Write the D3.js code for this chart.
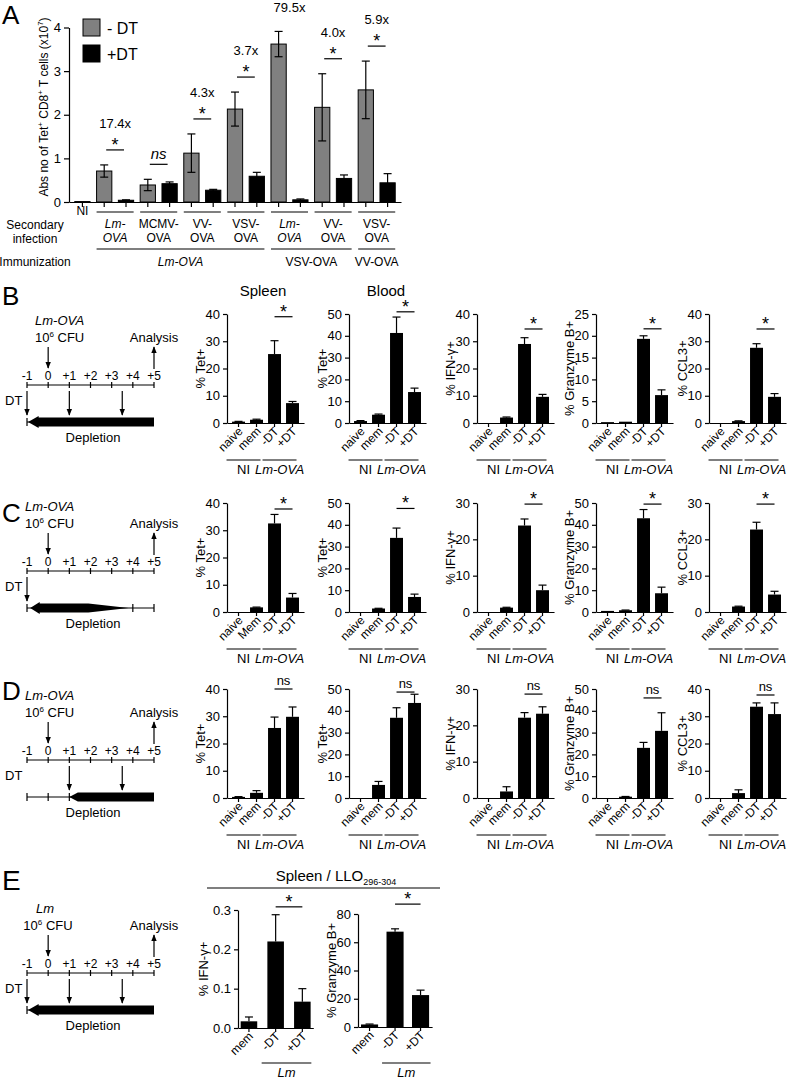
<!DOCTYPE html>
<html>
<head>
<meta charset="utf-8">
<script src="https://cdn.jsdelivr.net/npm/d3@7"></script>
<style>
  body { margin: 0; background: #fff; }
  svg { font-family: "Liberation Sans", Arial, Helvetica, sans-serif; }
</style>
</head>
<body>
<svg id="fig" width="787" height="1079"></svg>
<script>
// ---------- data: panel A ----------
const aInfection = [["NI"], ["Lm-", "OVA"], ["MCMV-", "OVA"], ["VV-", "OVA"], ["VSV-", "OVA"], ["Lm-", "OVA"], ["VV-", "OVA"], ["VSV-", "OVA"]];
const aMinusDT  = [0.01, 0.71, 0.39, 1.12, 2.13, 3.62, 2.17, 2.57];
const aMinusErr = [0, 0.14, 0.13, 0.44, 0.39, 0.29, 0.77, 0.66];
const aPlusDT   = [null, 0.04, 0.42, 0.27, 0.59, 0.05, 0.54, 0.44];
const aPlusErr  = [null, 0.01, 0.04, 0.02, 0.09, 0.02, 0.08, 0.21];
const aFold     = [null, "17.4x", "ns", "4.3x", "3.7x", "79.5x", "4.0x", "5.9x"];
const aImmunization = [{label: "Lm-OVA", from: 1, to: 4}, {label: "VSV-OVA", from: 5, to: 6}, {label: "VV-OVA", from: 7, to: 7}];
const aTicks = [0, 1, 2, 3, 4];

// ---------- data: panels B-D ----------
const chartYLabels = ["% Tet+", "% Tet+", "% IFN-\u03b3+", "% Granzyme B+", "% CCL3+"];
const barLabels = ["naive", "mem", "-DT", "+DT"];
const barLabelsC = ["naive", "Mem", "-DT", "+DT"];

const bMax = [40, 50, 40, 25, 40];
const bStep = [10, 10, 10, 5, 10];
const bValues = [[0.5, 1.2, 25.3, 7.3], [0.9, 3.8, 41.3, 14.2], [0, 2.0, 29, 9.6], [0.2, 0.3, 19.3, 6.4], [0, 0.7, 27.6, 9.6]];
const bErrors = [[0.1, 0.2, 4.9, 0.6], [0.2, 0.3, 7.3, 1.8], [0, 0.2, 2.3, 0.9], [0, 0, 0.7, 1.2], [0, 0.1, 1.5, 1.2]];
const bSig = [39, 51, 34.5, 21.6, 34.5];

const cMax = [40, 50, 30, 50, 30];
const cStep = [10, 10, 10, 10, 10];
const cValues = [[0, 1.7, 32.5, 5.3], [0, 1.6, 34, 6.9], [0, 1.2, 23.8, 6], [0.5, 0.8, 43, 8.6], [0, 1.5, 22.7, 4.8]];
const cErrors = [[0, 0.1, 3.3, 1.5], [0, 0.1, 4.5, 1.3], [0, 0.1, 1.8, 1.4], [0, 0.1, 4, 2.8], [0, 0.1, 2, 0.9]];
const cSig = [37.8, 47.5, 29.7, 49.5, 29.7];

const dMax = [40, 50, 30, 50, 40];
const dStep = [10, 10, 10, 10, 10];
const dValues = [[0.4, 1.9, 25.7, 29.8], [0, 6, 36.8, 43.6], [0, 1.8, 22.1, 23.2], [0, 0.6, 23, 30.8], [0, 1.8, 33.5, 30.8]];
const dErrors = [[0.1, 0.8, 4, 3.6], [0, 1.6, 4.6, 4], [0, 1.3, 1.4, 1.9], [0, 0.1, 2.5, 8.3], [0, 1.2, 1.4, 4.1]];
const dSig = [40, 48.6, 28.6, 45.9, 37.8];

// ---------- data: panel E ----------
const eLabels = ["mem", "-DT", "+DT"];
const eIfn = [0.017, 0.22, 0.067];
const eIfnErr = [0.011, 0.068, 0.033];
const eGzm = [1.8, 67.5, 22.6];
const eGzmErr = [0.3, 2, 3.5];

// ---------- data: schematics ----------
const timelineDays = [-1, 0, 1, 2, 3, 4, 5];
const schemeInfection = ["Lm-OVA", "Lm-OVA", "Lm-OVA", "Lm"];
const schemeDT = [[-1, 1, 3.5], [-1], [1, 3.5], [-1, 1, 3.5]];
const schemeDepletion = [[-1, 5], [-1, 3.8], [1, 5], [-1, 5]];

const svg = d3.select("#fig");

svg.append("defs").append("marker")
   .attr("id", "ah")
   .attr("viewBox", "0 0 10 10")
   .attr("refX", 9).attr("refY", 5)
   .attr("markerWidth", 7).attr("markerHeight", 7)
   .attr("markerUnits", "userSpaceOnUse")
   .attr("orient", "auto")
   .append("path").attr("d", "M0,1 L10,5 L0,9 z").attr("fill", "#000");

function styleAxis(g) {
  g.selectAll("path, line").attr("stroke", "#000").attr("stroke-width", 1.2);
  g.selectAll("text").attr("font-size", 13).attr("fill", "#000")
   .attr("font-family", "'Liberation Sans', Arial, sans-serif");
}

function letter(t, x, y, size) {
  svg.append("text").attr("x", x).attr("y", y).attr("font-size", size || 26).text(t);
}

// ================= Panel A =================
letter("A", 2, 24);
const aY = d3.scaleLinear().domain([0, 4]).range([202, 27.5]);
const aX = d3.scaleBand().domain(d3.range(15)).range([69, 401]).paddingInner(0.3).paddingOuter(0.265);
const bwA = aX.bandwidth();
const gA = svg.append("g");

let aBars = [{slot: 0, v: aMinusDT[0], e: aMinusErr[0], fill: "#000"}];
for (let i = 1; i < aMinusDT.length; i++) {
  aBars.push({slot: 2 * i - 1, v: aMinusDT[i], e: aMinusErr[i], fill: "#808080"});
  aBars.push({slot: 2 * i, v: aPlusDT[i], e: aPlusErr[i], fill: "#000"});
}

gA.selectAll("rect.bar").data(aBars).enter().append("rect")
  .attr("x", d => aX(d.slot))
  .attr("y", d => aY(d.v))
  .attr("width", bwA)
  .attr("height", d => aY(0) - aY(d.v))
  .attr("fill", d => d.fill)
  .attr("stroke", "#000").attr("stroke-width", 1);

const aErr = gA.selectAll("g.err").data(aBars.filter(d => d.e > 0)).enter().append("g");
aErr.append("line")
  .attr("x1", d => aX(d.slot) + bwA / 2).attr("x2", d => aX(d.slot) + bwA / 2)
  .attr("y1", d => aY(Math.max(0, d.v - d.e))).attr("y2", d => aY(d.v + d.e))
  .attr("stroke", "#000").attr("stroke-width", 1.2);
aErr.append("line")
  .attr("x1", d => aX(d.slot) + bwA / 2 - 4).attr("x2", d => aX(d.slot) + bwA / 2 + 4)
  .attr("y1", d => aY(d.v + d.e)).attr("y2", d => aY(d.v + d.e))
  .attr("stroke", "#000").attr("stroke-width", 1.2);
aErr.filter(d => d.v - d.e > 0.02).append("line")
  .attr("x1", d => aX(d.slot) + bwA / 2 - 4).attr("x2", d => aX(d.slot) + bwA / 2 + 4)
  .attr("y1", d => aY(d.v - d.e)).attr("y2", d => aY(d.v - d.e))
  .attr("stroke", "#000").attr("stroke-width", 1.2);

gA.append("g").attr("transform", "translate(69,0)")
  .call(d3.axisLeft(aY).tickValues(aTicks).tickSize(5).tickSizeOuter(0).tickFormat(d3.format("d")))
  .call(styleAxis);
gA.append("g").attr("transform", "translate(0,202)")
  .call(d3.axisBottom(aX).tickSize(5).tickSizeOuter(0).tickFormat(""))
  .call(styleAxis);

// y label
const aYl = gA.append("text").attr("transform", "translate(48,107) rotate(-90)")
  .attr("text-anchor", "middle").attr("font-size", 12);
aYl.append("tspan").text("Abs no of Tet");
aYl.append("tspan").attr("font-size", 8).attr("dy", -5).text("+");
aYl.append("tspan").attr("dy", 5).text(" CD8");
aYl.append("tspan").attr("font-size", 8).attr("dy", -5).text("+");
aYl.append("tspan").attr("dy", 5).text(" T cells (x10");
aYl.append("tspan").attr("font-size", 8).attr("dy", -5).text("7");
aYl.append("tspan").attr("dy", 5).text(")");

// legend
[["#808080", "- DT"], ["#000", "+DT"]].forEach((l, i) => {
  gA.append("rect").attr("x", 83).attr("y", 19 + i * 26).attr("width", 17).attr("height", 17)
    .attr("fill", l[0]).attr("stroke", "#000");
  gA.append("text").attr("x", 107).attr("y", 34 + i * 26).attr("font-size", 16).text(l[1]);
});

// fold change annotations
for (let i = 1; i < aMinusDT.length; i++) {
  const x0 = aX(2 * i - 1) + bwA / 2, x1 = aX(2 * i) + bwA / 2, cx = (x0 + x1) / 2;
  const top = Math.max(aMinusDT[i] + aMinusErr[i], aPlusDT[i] + aPlusErr[i]);
  const ly = aY(top) - 15;
  if (ly - 34 < 0) {
    gA.append("text").attr("x", cx).attr("y", 12).attr("text-anchor", "middle").attr("font-size", 13).text(aFold[i]);
    continue;
  }
  gA.append("line").attr("x1", x0 + 2).attr("x2", x1 - 2).attr("y1", ly).attr("y2", ly)
    .attr("stroke", "#000").attr("stroke-width", 1.2);
  if (aFold[i] === "ns") {
    gA.append("text").attr("x", cx).attr("y", ly - 5).attr("text-anchor", "middle")
      .attr("font-size", 15).attr("font-style", "italic").text("ns");
  } else {
    gA.append("text").attr("x", cx).attr("y", ly + 1).attr("text-anchor", "middle").attr("font-size", 18).text("*");
    gA.append("text").attr("x", cx).attr("y", ly - 22).attr("text-anchor", "middle").attr("font-size", 13).text(aFold[i]);
  }
}

// secondary infection labels
aInfection.forEach((lab, i) => {
  const italic = lab[0] === "Lm-";
  if (i === 0) {
    gA.append("text").attr("x", aX(0) + bwA / 2).attr("y", 215).attr("text-anchor", "middle").attr("font-size", 12).text(lab[0]);
    return;
  }
  const xs = aX(2 * i - 1), xe = aX(2 * i) + bwA;
  gA.append("line").attr("x1", xs).attr("x2", xe).attr("y1", 212).attr("y2", 212).attr("stroke", "#000").attr("stroke-width", 1.2);
  lab.forEach((t, k) => {
    gA.append("text").attr("x", (xs + xe) / 2).attr("y", 228 + k * 14).attr("text-anchor", "middle")
      .attr("font-size", 12).attr("font-style", italic ? "italic" : null).text(t);
  });
});
gA.append("text").attr("x", 35).attr("y", 229).attr("text-anchor", "middle").attr("font-size", 12).text("Secondary");
gA.append("text").attr("x", 35).attr("y", 243).attr("text-anchor", "middle").attr("font-size", 12).text("infection");
gA.append("text").attr("x", 35).attr("y", 266).attr("text-anchor", "middle").attr("font-size", 12).text("Immunization");
aImmunization.forEach(g => {
  const xs = aX(2 * g.from - 1), xe = aX(2 * g.to) + bwA;
  gA.append("line").attr("x1", xs).attr("x2", xe).attr("y1", 249).attr("y2", 249).attr("stroke", "#000").attr("stroke-width", 1.2);
  gA.append("text").attr("x", (xs + xe) / 2).attr("y", 266).attr("text-anchor", "middle").attr("font-size", 12)
    .attr("font-style", g.label === "Lm-OVA" ? "italic" : null).text(g.label);
});

// ================= bar chart helper =================
function barChart(c) {
  const g = svg.append("g");
  const n = c.values.length;
  const y = d3.scaleLinear().domain([0, c.max]).range([c.y0, c.y0 - c.h]);
  const x = d3.scaleBand().domain(d3.range(n))
    .range([c.ax, c.ax + c.step * (n - c.pi + 2 * c.po)])
    .paddingInner(c.pi).paddingOuter(c.po);
  const bw = x.bandwidth();
  const cx = i => x(i) + bw / 2;

  g.selectAll("rect").data(c.values).enter().append("rect")
    .attr("x", (d, i) => x(i)).attr("y", d => y(d))
    .attr("width", bw).attr("height", d => c.y0 - y(d))
    .attr("fill", "#000");

  const eg = g.selectAll("g.e").data(c.values.map((v, i) => ({v, e: c.errors[i], i})).filter(d => d.e > 0))
    .enter().append("g");
  eg.append("line").attr("x1", d => cx(d.i)).attr("x2", d => cx(d.i))
    .attr("y1", d => y(d.v)).attr("y2", d => y(d.v + d.e)).attr("stroke", "#000").attr("stroke-width", 1.2);
  eg.append("line").attr("x1", d => cx(d.i) - 4).attr("x2", d => cx(d.i) + 4)
    .attr("y1", d => y(d.v + d.e)).attr("y2", d => y(d.v + d.e)).attr("stroke", "#000").attr("stroke-width", 1.2);

  const ticks = d3.range(0, c.max + 1e-9, c.tick);
  g.append("g").attr("transform", `translate(${c.ax},0)`)
    .call(d3.axisLeft(y).tickValues(ticks).tickSize(4).tickSizeOuter(0).tickFormat(c.fmt || d3.format("d")))
    .call(styleAxis);
  g.append("g").attr("transform", `translate(0,${c.y0})`)
    .call(d3.axisBottom(x).tickSize(4).tickSizeOuter(0).tickFormat(""))
    .call(styleAxis);

  g.append("text").attr("transform", `translate(${c.ax - c.ylDx},${c.y0 - c.h / 2}) rotate(-90)`)
    .attr("text-anchor", "middle").attr("font-size", 13).text(c.ylabel);

  c.labels.forEach((t, i) => {
    g.append("text").attr("transform", `translate(${cx(i) + 5},${c.y0 + 9}) rotate(-45)`)
      .attr("text-anchor", "end").attr("font-size", 12).text(t);
  });

  c.groups.forEach(gr => {
    const xs = cx(gr.from) - c.gpad[0], xe = cx(gr.to) + c.gpad[1];
    g.append("line").attr("x1", xs).attr("x2", xe).attr("y1", c.y0 + c.gy).attr("y2", c.y0 + c.gy)
      .attr("stroke", "#000").attr("stroke-width", 1.2);
    g.append("text").attr("x", (xs + xe) / 2).attr("y", c.y0 + c.gy + 14).attr("text-anchor", "middle")
      .attr("font-size", 13).attr("font-style", gr.italic ? "italic" : null).text(gr.label);
  });

  const sy = y(c.sig);
  g.append("line").attr("x1", cx(n - 2)).attr("x2", cx(n - 1)).attr("y1", sy).attr("y2", sy)
    .attr("stroke", "#000").attr("stroke-width", 1.2);
  const mid = (cx(n - 2) + cx(n - 1)) / 2;
  if (c.sigText === "ns") {
    g.append("text").attr("x", mid).attr("y", sy - 4).attr("text-anchor", "middle").attr("font-size", 13).text("ns");
  } else {
    g.append("text").attr("x", mid).attr("y", sy + 1).attr("text-anchor", "middle").attr("font-size", 18).text("*");
  }
  return g;
}

const colAx = [227, 349, 477, 596, 709];
const rowDefs = [
  {y0: 423, max: bMax, step: bStep, values: bValues, errors: bErrors, sig: bSig, sigText: "*"},
  {y0: 612, max: cMax, step: cStep, values: cValues, errors: cErrors, sig: cSig, sigText: "*"},
  {y0: 798, max: dMax, step: dStep, values: dValues, errors: dErrors, sig: dSig, sigText: "ns"}
];
rowDefs.forEach((r, ri) => {
  colAx.forEach((ax, ci) => {
    barChart({
      ax, y0: r.y0, h: 109, max: r.max[ci], tick: r.step[ci],
      values: r.values[ci], errors: r.errors[ci], sig: r.sig[ci], sigText: r.sigText,
      step: 18, pi: 0.28, po: 0.28, ylabel: chartYLabels[ci], ylDx: 22,
      labels: (ri === 1 && ci === 0) ? barLabelsC : barLabels,
      groups: [{label: "NI", from: 0, to: 1}, {label: "Lm-OVA", from: 2, to: 3, italic: true}],
      gpad: [12, 4], gy: 37
    });
  });
});
svg.append("text").attr("x", colAx[0] + 36).attr("y", 296).attr("text-anchor", "middle").attr("font-size", 15).text("Spleen");
svg.append("text").attr("x", colAx[1] + 37).attr("y", 296).attr("text-anchor", "middle").attr("font-size", 15).text("Blood");

// ================= Panel E charts =================
const eTitle = svg.append("text").attr("x", 336).attr("y", 881).attr("text-anchor", "middle").attr("font-size", 15);
eTitle.append("tspan").text("Spleen / LLO");
eTitle.append("tspan").attr("font-size", 9).attr("dy", 4).text("296-304");
svg.append("line").attr("x1", 207).attr("x2", 440).attr("y1", 888).attr("y2", 888).attr("stroke", "#000").attr("stroke-width", 1.2);

barChart({
  ax: 238, y0: 1028, h: 118, max: 0.3, tick: 0.1, fmt: d3.format(".1f"),
  values: eIfn, errors: eIfnErr, sig: 0.308, sigText: "*",
  step: 26.7, pi: 0.38, po: 0.1, ylabel: "% IFN-\u03b3+", ylDx: 30,
  labels: eLabels, groups: [{label: "Lm", from: 1, to: 2, italic: true}], gpad: [14, 9], gy: 35
});
barChart({
  ax: 358, y0: 1027, h: 113, max: 80, tick: 20,
  values: eGzm, errors: eGzmErr, sig: 87, sigText: "*",
  step: 25.5, pi: 0.33, po: 0.118, ylabel: "% Granzyme B+", ylDx: 22,
  labels: eLabels, groups: [{label: "Lm", from: 1, to: 2, italic: true}], gpad: [13, 10], gy: 36
});

// ================= schematics =================
const dayX = d3.scaleLinear().domain([-1, 5]).range([27, 154]);

function arrow(x, y1, y2) {
  svg.append("line").attr("x1", x).attr("x2", x).attr("y1", y1).attr("y2", y2)
    .attr("stroke", "#000").attr("stroke-width", 1.2).attr("marker-end", "url(#ah)");
}

function depletionPath(kind, d0, d1, yc) {
  let pts;
  if (kind === "left") {
    pts = [[d0 + 0.05, 0], [d0 + 0.55, 6], [d0 + 0.55, 4.5], [d1, 4.5]];
  } else if (kind === "taper") {
    pts = [[d0 + 0.15, 0], [d0 + 0.6, 6], [d0 + 0.6, 4.5], [1.9, 4.5], [d1, 0]];
  } else {
    pts = [[d0, 0], [d0 + 0.4, 4.5], [d1, 4.5]];
  }
  const up = pts.map(p => [dayX(p[0]), yc - p[1]]);
  const down = pts.slice().reverse().map(p => [dayX(p[0]), yc + p[1]]);
  return d3.line()(up.concat(down)) + "Z";
}

function schematic(k, s) {
  svg.append("text").attr("x", s.infX).attr("y", s.cfu - 12).attr("font-size", 13)
    .attr("font-style", "italic").attr("text-anchor", s.infAnchor).text(schemeInfection[k]);
  const cfu = svg.append("text").attr("x", s.cfuX).attr("y", s.cfu + 5).attr("font-size", 13).attr("text-anchor", s.infAnchor);
  cfu.append("tspan").text("10");
  cfu.append("tspan").attr("font-size", 8).attr("dy", -5).text("6");
  cfu.append("tspan").attr("dy", 5).text(" CFU");
  svg.append("text").attr("x", dayX(5)).attr("y", s.cfu + 5).attr("text-anchor", "middle").attr("font-size", 13).text("Analysis");
  arrow(dayX(0), s.cfu + 10, s.cfu + 31);
  arrow(dayX(5), s.cfu + 32, s.cfu + 10);

  const ly = s.cfu + 48;
  svg.append("g").selectAll("text").data(timelineDays).enter().append("text")
    .attr("x", d => dayX(d)).attr("y", ly - 5).attr("text-anchor", "middle").attr("font-size", 12)
    .text(d => d > 0 ? "+" + d : d);
  svg.append("line").attr("x1", dayX(-1)).attr("x2", dayX(5)).attr("y1", ly).attr("y2", ly).attr("stroke", "#000").attr("stroke-width", 1.2);
  svg.append("g").selectAll("line").data(timelineDays).enter().append("line")
    .attr("x1", d => dayX(d)).attr("x2", d => dayX(d)).attr("y1", ly - 3).attr("y2", ly + 3)
    .attr("stroke", "#000").attr("stroke-width", 1.2);

  svg.append("text").attr("x", 5).attr("y", ly + 20).attr("font-size", 13).text("DT");
  schemeDT[k].forEach(d => arrow(dayX(d), ly + 6, ly + 30));

  const by = ly + 37;
  const dep = schemeDepletion[k];
  svg.append("line").attr("x1", dayX(-1)).attr("x2", dayX(5)).attr("y1", by).attr("y2", by).attr("stroke", "#000").attr("stroke-width", 1.2);
  svg.append("g").selectAll("line").data(timelineDays.filter(d => d < dep[0] + 0.1 || d > dep[1])).enter().append("line")
    .attr("x1", d => dayX(d)).attr("x2", d => dayX(d)).attr("y1", by - 4).attr("y2", by + 4)
    .attr("stroke", "#000").attr("stroke-width", 1.2);
  svg.append("path").attr("d", depletionPath(s.kind, dep[0], dep[1], by)).attr("fill", "#000");
  svg.append("text").attr("x", 93).attr("y", by + 20).attr("text-anchor", "middle").attr("font-size", 13).text("Depletion");
}

letter("B", 2, 305);
schematic(0, {cfu: 337, infX: 35, cfuX: 35, infAnchor: "start", kind: "left"});
letter("C", 2, 522);
schematic(1, {cfu: 523, infX: 25, cfuX: 25, infAnchor: "start", kind: "taper"});
letter("D", 2, 700);
schematic(2, {cfu: 712, infX: 25, cfuX: 25, infAnchor: "start", kind: "late"});
letter("E", 2, 890, 28);
schematic(3, {cfu: 925, infX: 45, cfuX: 48, infAnchor: "middle", kind: "left"});
</script>
</body>
</html>
